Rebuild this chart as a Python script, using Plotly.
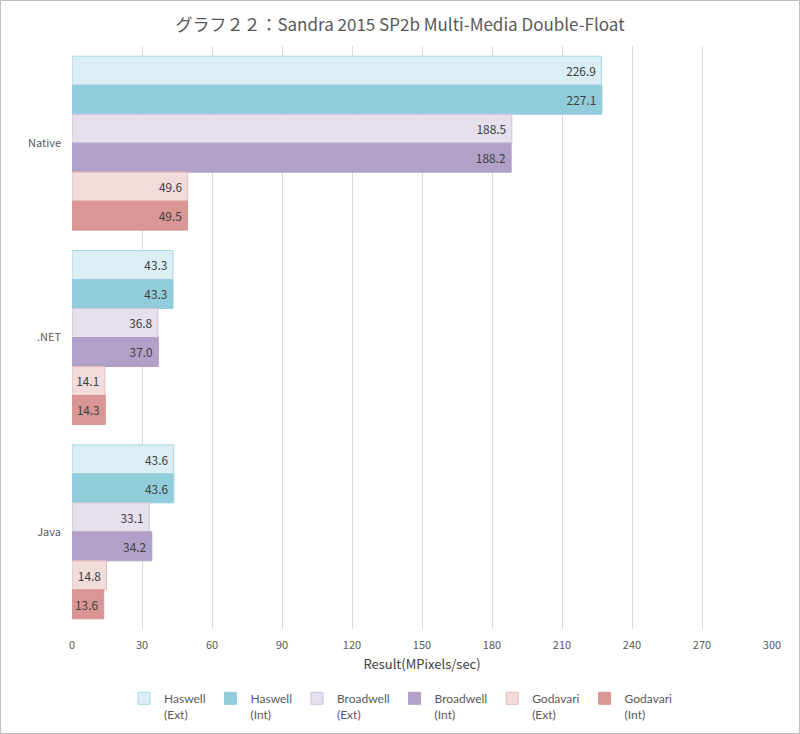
import plotly.graph_objects as go

categories = ["Native", ".NET", "Java"]
series_names = ["Haswell<br>(Ext)", "Haswell<br>(Int)", "Broadwell<br>(Ext)",
                "Broadwell<br>(Int)", "Godavari<br>(Ext)", "Godavari<br>(Int)"]
haswell_ext = [226.9, 43.3, 43.6]
haswell_int = [227.1, 43.3, 43.6]
broadwell_ext = [188.5, 36.8, 33.1]
broadwell_int = [188.2, 37.0, 34.2]
godavari_ext = [49.6, 14.1, 14.8]
godavari_int = [49.5, 14.3, 13.6]

fills = ["#DAEEF3", "#92CDDC", "#E5E0EC", "#B1A0C7", "#F2DCDB", "#DA9694"]
edges = ["#A9D8E4", "#92CDDC", "#CCC0DA", "#B1A0C7", "#E6B9B8", "#DA9694"]

FONT = "Noto Sans CJK JP, Noto Sans, sans-serif"
W, H = 800, 734
ML, MR, MT, MB = 72, 28, 46, 105
PW, PH = W - ML - MR, H - MT - MB

fig = go.Figure()
for name, vals, fc, ec in zip(series_names,
                              [haswell_ext, haswell_int, broadwell_ext,
                               broadwell_int, godavari_ext, godavari_int],
                              fills, edges):
    fig.add_trace(go.Bar(
        y=categories, x=vals, name=name, orientation="h",
        marker=dict(color=fc, line=dict(color=ec, width=1)),
        text=[f"{v:.1f}\u00a0" for v in vals], textposition="inside",
        insidetextanchor="end",
        textfont=dict(size=12, color="#404040", family=FONT),
    ))

fig.update_layout(
    width=W, height=H,
    barmode="group", bargap=0.105, bargroupgap=0,
    title=dict(text="グラフ２２：Sandra 2015 SP2b Multi-Media Double-Float",
               x=0.5, xanchor="center", y=1 - 25 / H, yanchor="middle",
               automargin=False,
               font=dict(size=17, color="#595959", family=FONT)),
    xaxis=dict(range=[0, 300], dtick=30, showgrid=True, gridcolor="#D9D9D9",
               zeroline=False, showline=False, ticks="", automargin=False,
               ticklabelstandoff=8,
               tickfont=dict(size=11, color="#595959"),
               title=dict(text="Result(MPixels/sec)", standoff=8,
                          font=dict(size=13, color="#404040"))),
    yaxis=dict(autorange="reversed", showgrid=False, showline=False, ticks="",
               automargin=False, ticklabelstandoff=10,
               tickfont=dict(size=11, color="#595959")),
    legend=dict(orientation="h", x=0.47, xanchor="center", y=-(684 - MT - PH) / PH,
                yanchor="top", traceorder="normal", valign="top",
                font=dict(size=12, color="#595959", family="Lato, sans-serif"),
                itemwidth=30),
    plot_bgcolor="white", paper_bgcolor="white",
    font=dict(family=FONT, color="#595959"),
    margin=dict(l=ML, r=MR, t=MT, b=MB, autoexpand=False),
    uniformtext=dict(minsize=8, mode="show"),
    shapes=[dict(type="rect", xref="paper", yref="paper",
                 x0=-(ML - 0.5) / PW, x1=1 + (MR - 0.5) / PW,
                 y0=-(MB - 0.5) / PH, y1=1 + (MT - 0.5) / PH,
                 line=dict(color="#BFBFBF", width=1))],
)

fig.write_html("out.html", config=dict(displayModeBar=False),
               post_script="document.body.style.margin='0';")
